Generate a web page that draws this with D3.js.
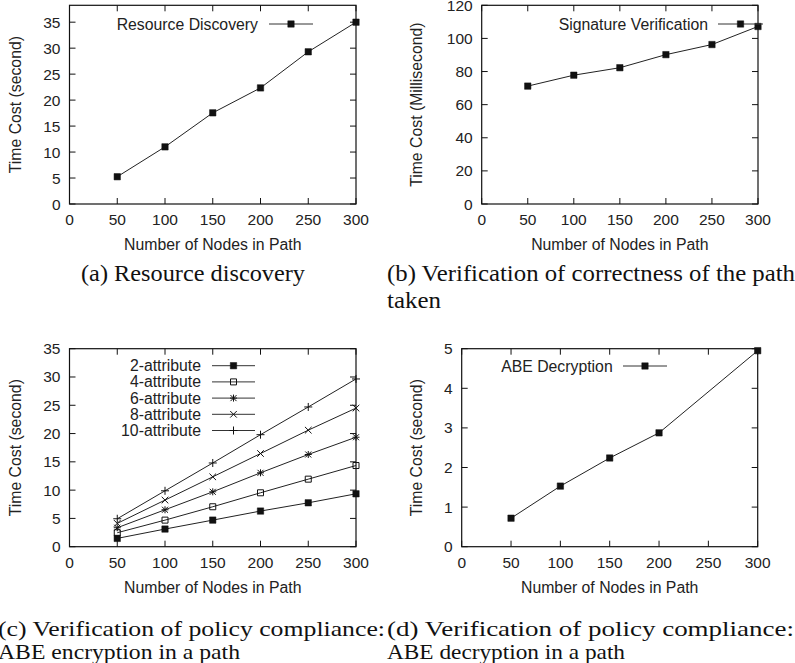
<!DOCTYPE html>
<html>
<head>
<meta charset="utf-8">
<script src="https://cdn.jsdelivr.net/npm/d3@7"></script>
<style>
  body { margin: 0; background: #fff; }
  svg { display: block; }
  .tick-label, .axis-title, .legend-text { font-family: "Liberation Sans", Arial, Helvetica, sans-serif; fill: #222; }
  .caption { font-family: "Liberation Serif", "Times New Roman", Times, serif; fill: #111; }
</style>
</head>
<body>
<svg id="fig" width="795" height="663"></svg>
<script>
'use strict'

// data
const nodeCounts = [50, 100, 150, 200, 250, 300]
const discoveryTime = [5.25, 11.0, 17.55, 22.35, 29.3, 35.0]
const signatureTime = [71.2, 77.8, 82.3, 90.2, 96.3, 107.2]

const attributeNames = ['2-attribute', '4-attribute', '6-attribute', '8-attribute', '10-attribute']
const enc2 = [1.47, 3.12, 4.7, 6.3, 7.76, 9.35]
const enc4 = [2.47, 4.7, 7.06, 9.53, 11.94, 14.35]
const enc6 = [3.35, 6.53, 9.7, 13.06, 16.3, 19.35]
const enc8 = [4.12, 8.24, 12.35, 16.47, 20.6, 24.5]
const enc10 = [4.94, 9.88, 14.8, 19.8, 24.7, 29.65]

const decNodeCounts = [50, 100, 150, 200, 300]
const decryptionTime = [0.72, 1.53, 2.24, 2.875, 4.95]

const xTicks = [0, 50, 100, 150, 200, 250, 300]

const svg = d3.select("#fig")

// marker shapes (gnuplot point types)
function markerPath(type){
  let p = d3.path()
  if(type == 'square' || type == 'opensquare'){
    let h = type == 'square' ? 3.2 : 3
    p.rect(-h, -h, 2*h, 2*h)
  }
  if(type == 'plus' || type == 'asterisk'){
    let h = type == 'plus' ? 4 : 3.5
    p.moveTo(-h, 0); p.lineTo(h, 0)
    p.moveTo(0, -h); p.lineTo(0, h)
  }
  if(type == 'times' || type == 'asterisk'){
    let h = type == 'times' ? 3.3 : 3
    p.moveTo(-h, -h); p.lineTo(h, h)
    p.moveTo(-h, h); p.lineTo(h, -h)
  }
  return p.toString()
}

function drawMarker(g, type, x, y){
  g.append("path")
    .attr("d", markerPath(type))
    .attr("transform", "translate(" + x + "," + y + ")")
    .attr("fill", type == 'square' ? "#111" : "none")
    .attr("stroke", "#111")
    .attr("stroke-width", type == 'square' ? 0.5 : 1)
}

function panel(opt){
  let g = svg.append("g")
  let x = d3.scaleLinear().domain([0, 300]).range([opt.left, opt.right])
  let y = d3.scaleLinear().domain([0, opt.ymax]).range([opt.bottom, opt.top])
  let tickLen = 6

  // ticks on all four sides, pointing inward
  xTicks.forEach(function(t){
    g.append("line").attr("x1", x(t)).attr("x2", x(t)).attr("y1", opt.bottom).attr("y2", opt.bottom - tickLen)
      .attr("stroke", "#111")
    g.append("line").attr("x1", x(t)).attr("x2", x(t)).attr("y1", opt.top).attr("y2", opt.top + tickLen)
      .attr("stroke", "#111")
    g.append("text").attr("class", "tick-label")
      .attr("x", x(t)).attr("y", opt.bottom + 21)
      .attr("text-anchor", "middle").style("font-size", "15.5px")
      .text(t)
  })
  opt.yTicks.forEach(function(t){
    g.append("line").attr("x1", opt.left).attr("x2", opt.left + tickLen).attr("y1", y(t)).attr("y2", y(t))
      .attr("stroke", "#111")
    g.append("line").attr("x1", opt.right).attr("x2", opt.right - tickLen).attr("y1", y(t)).attr("y2", y(t))
      .attr("stroke", "#111")
    g.append("text").attr("class", "tick-label")
      .attr("x", opt.left - 9).attr("y", y(t) + 5.5)
      .attr("text-anchor", "end").style("font-size", "15.5px")
      .text(t)
  })

  g.append("rect")
    .attr("x", opt.left).attr("y", opt.top)
    .attr("width", opt.right - opt.left).attr("height", opt.bottom - opt.top)
    .attr("fill", "none").attr("stroke", "#111").attr("stroke-width", 1.2)

  g.append("text").attr("class", "axis-title")
    .attr("x", (opt.left + opt.right) / 2).attr("y", opt.bottom + 46)
    .attr("text-anchor", "middle").style("font-size", "15.8px")
    .text("Number of Nodes in Path")

  g.append("text").attr("class", "axis-title")
    .attr("transform", "translate(" + opt.ylabelX + "," + ((opt.top + opt.bottom) / 2) + ") rotate(-90)")
    .attr("text-anchor", "middle").style("font-size", "15.8px")
    .text(opt.ylabel)

  let line = d3.line().x(d => x(d[0])).y(d => y(d[1]))

  opt.series.forEach(function(s, i){
    let pts = s.xs.map((v, j) => [v, s.ys[j]])
    g.append("path").datum(pts)
      .attr("d", line)
      .attr("fill", "none").attr("stroke", "#222").attr("stroke-width", 1)
    pts.forEach(function(p){ drawMarker(g, s.marker, x(p[0]), y(p[1])) })

    // legend entry
    let ly = opt.legendY + i * 16.2
    g.append("text").attr("class", "legend-text")
      .attr("x", opt.legendTextX).attr("y", ly + 5.5)
      .attr("text-anchor", "end").style("font-size", "15.8px")
      .text(s.name)
    g.append("line")
      .attr("x1", opt.legendLine[0]).attr("x2", opt.legendLine[1])
      .attr("y1", ly).attr("y2", ly)
      .attr("stroke", "#333").attr("stroke-width", 1)
    drawMarker(g, s.marker, (opt.legendLine[0] + opt.legendLine[1]) / 2, ly)
  })
}

// (a)
panel({
  left: 69.5, right: 356, top: 5.3, bottom: 204, ymax: 38.25,
  yTicks: d3.range(0, 36, 5), ylabel: "Time Cost (second)", ylabelX: 21,
  legendY: 24, legendTextX: 258, legendLine: [269, 313],
  series: [{name: "Resource Discovery", xs: nodeCounts, ys: discoveryTime, marker: 'square'}]
})

// (b)
panel({
  left: 481.7, right: 758, top: 5.3, bottom: 204, ymax: 120,
  yTicks: d3.range(0, 121, 20), ylabel: "Time Cost (Millisecond)", ylabelX: 422,
  legendY: 24, legendTextX: 708, legendLine: [718, 763],
  series: [{name: "Signature Verification", xs: nodeCounts, ys: signatureTime, marker: 'square'}]
})

// (c)
const encSeries = [enc2, enc4, enc6, enc8, enc10]
const encMarkers = ['square', 'opensquare', 'asterisk', 'times', 'plus']
panel({
  left: 69.5, right: 356, top: 348.7, bottom: 546.7, ymax: 35,
  yTicks: d3.range(0, 36, 5), ylabel: "Time Cost (second)", ylabelX: 21,
  legendY: 365.7, legendTextX: 201, legendLine: [212, 255],
  series: encSeries.map((ys, i) => ({name: attributeNames[i], xs: nodeCounts, ys: ys, marker: encMarkers[i]}))
})

// (d)
panel({
  left: 461.7, right: 757.7, top: 348.7, bottom: 546.7, ymax: 5,
  yTicks: d3.range(0, 6, 1), ylabel: "Time Cost (second)", ylabelX: 422,
  legendY: 366, legendTextX: 612.7, legendLine: [623, 667],
  series: [{name: "ABE Decryption", xs: decNodeCounts, ys: decryptionTime, marker: 'square'}]
})

// sub-figure captions
const captions = [
  {text: "(a) Resource discovery", x: 81, y: 281, w: 224, size: 23},
  {text: "(b) Verification of correctness of the path", x: 387, y: 281, w: 408, size: 23},
  {text: "taken", x: 387, y: 308, w: 54, size: 23},
  {text: "(c) Verification of policy compliance:", x: -2, y: 636, w: 387, size: 22},
  {text: "ABE encryption in a path", x: -2, y: 659, w: 242, size: 22},
  {text: "(d) Verification of policy compliance:", x: 387, y: 636, w: 407, size: 22},
  {text: "ABE decryption in a path", x: 387, y: 659, w: 238, size: 22}
]
svg.selectAll("text.caption").data(captions).join("text")
  .attr("class", "caption")
  .attr("x", d => d.x).attr("y", d => d.y)
  .attr("textLength", d => d.w).attr("lengthAdjust", "spacingAndGlyphs")
  .style("font-size", d => d.size + "px")
  .text(d => d.text)
</script>
</body>
</html>
